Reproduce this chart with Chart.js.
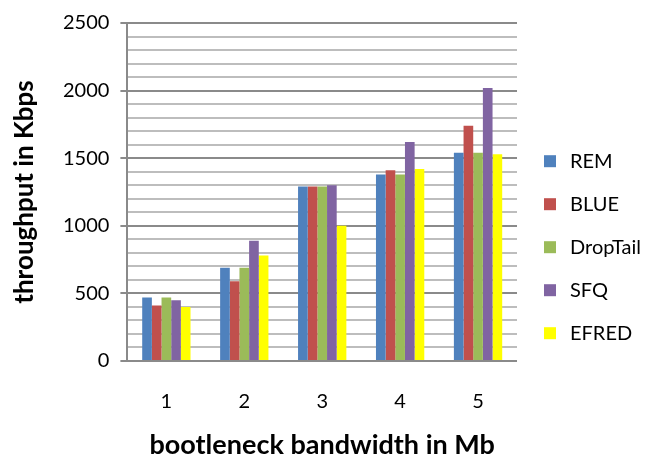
<!DOCTYPE html>
<html>
<head>
<meta charset="utf-8">
<script src="https://cdn.jsdelivr.net/npm/chart.js@4"></script>
<style>
  html, body { margin: 0; padding: 0; background: #ffffff; }
  #wrap { width: 651px; height: 461px; }
</style>
</head>
<body>
<div id="wrap"><canvas id="c" width="651" height="461"></canvas></div>
<script>
// Bottleneck bandwidth (Mb)
const categories = ['1', '2', '3', '4', '5'];

// Throughput per queueing scheme (Kbps)
const rem      = [470, 690, 1290, 1380, 1540];
const blue     = [410, 590, 1290, 1410, 1740];
const dropTail = [470, 690, 1290, 1380, 1540];
const sfq      = [450, 890, 1300, 1620, 2020];
const efred    = [400, 780, 1000, 1420, 1530];

const seriesNames = ['REM', 'BLUE', 'DropTail', 'SFQ', 'EFRED'];
const seriesColors = ['#4F81BD', '#C0504D', '#9BBB59', '#8064A2', '#FFFF00'];

const yMax = 2500;
const yMinorStep = 100;
const yMajorStep = 500;

const FONT = 'Lato, "Open Sans", "DejaVu Sans", sans-serif';
const MAJOR_GRID = '#8a8a8a';
const MINOR_GRID = '#bdbdbd';

const seriesValues = [rem, blue, dropTail, sfq, efred];
const datasets = seriesNames.map((name, i) => ({
  label: name,
  data: seriesValues[i],
  backgroundColor: seriesColors[i],
  borderWidth: 0,
  categoryPercentage: 0.62,
  barPercentage: 1.0
}));

const isMajor = v => v % yMajorStep === 0;

new Chart(document.getElementById('c'), {
  type: 'bar',
  data: { labels: categories, datasets },
  options: {
    responsive: false,
    animation: false,
    devicePixelRatio: 1,
    layout: { padding: { top: 12, right: 0, bottom: 0, left: 5 } },
    plugins: {
      tooltip: { enabled: false },
      legend: {
        position: 'right',
        align: 'center',
        // empty title only nudges the legend column down a little
        title: { display: true, text: '', padding: { top: 0, bottom: 7 } },
        labels: {
          color: '#000',
          font: { family: FONT, size: 20 },
          usePointStyle: true,
          pointStyle: 'rect',
          boxWidth: 20,
          boxHeight: 12,
          padding: 23
        }
      }
    },
    scales: {
      x: {
        grid: { display: false, drawTicks: true, tickLength: 29 },
        border: { display: false },
        ticks: {
          color: '#000',
          font: { family: FONT, size: 20 },
          padding: 0
        },
        title: {
          display: true,
          text: 'bootleneck bandwidth in Mb',
          color: '#000',
          font: { family: FONT, size: 27, weight: 'bold', lineHeight: 1.0 },
          padding: { top: 18, bottom: 2 }
        }
      },
      y: {
        min: 0,
        max: yMax,
        border: { display: true, color: MAJOR_GRID, width: 2 },
        grid: {
          color: ctx => isMajor(ctx.tick.value) ? MAJOR_GRID : MINOR_GRID,
          tickColor: ctx => isMajor(ctx.tick.value) ? MAJOR_GRID : 'rgba(0,0,0,0)',
          lineWidth: 2,
          tickLength: 7
        },
        ticks: {
          stepSize: yMinorStep,
          autoSkip: false,
          color: '#000',
          font: { family: FONT, size: 20 },
          padding: 11,
          callback: v => isMajor(v) ? String(v) : ''
        },
        title: {
          display: true,
          text: 'throughput in Kbps',
          color: '#000',
          font: { family: FONT, size: 26, weight: 'bold', lineHeight: 1.0 },
          padding: { top: 7, bottom: 14 }
        }
      }
    }
  }
});
</script>
</body>
</html>
